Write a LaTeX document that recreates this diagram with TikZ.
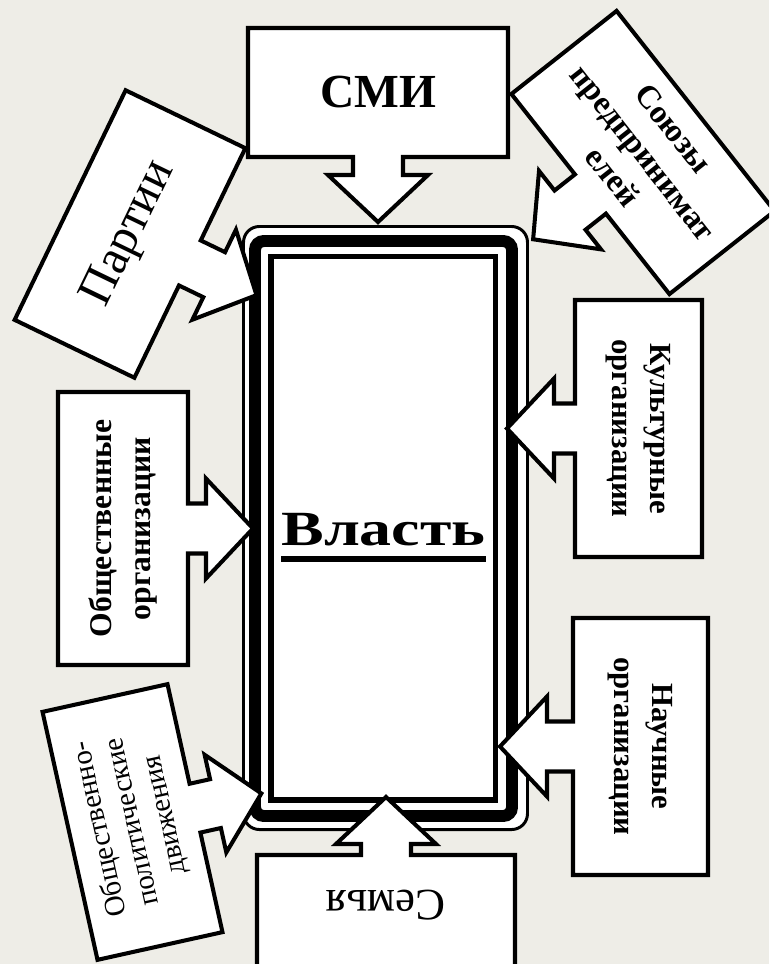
\documentclass[tikz,border=0pt]{standalone}
\usepackage{fontspec}
\setmainfont{Liberation Serif}
\usepackage{graphicx}
\usepackage{tikz}
\definecolor{fon}{RGB}{238,237,231}

% box with a block arrow under it, pointing down in its own frame
\newcommand{\callout}[5]{%
  \begin{scope}[shift={#1}, rotate=#2]
  \filldraw [callout] (-#3/2,#4/2) -- (#3/2,#4/2) -- (#3/2,-#4/2) -- (25,-#4/2) -- (25,-#4/2-#5+47) -- (50,-#4/2-#5+47) -- (0,-#4/2-#5) -- (-50,-#4/2-#5+47) -- (-25,-#4/2-#5+47) -- (-25,-#4/2) -- (-#3/2,-#4/2) -- cycle;
  \end{scope}}

\begin{document}
\begin{tikzpicture}[x=0.02cm, y=0.02cm,
  callout/.style={draw=black, fill=white, line width=2.3pt},
  lab/.style={align=center, inner sep=0pt},
  big/.style 2 args={font=\fontsize{#1}{#2}\selectfont},
  bigb/.style 2 args={font=\bfseries\fontsize{#1}{#2}\selectfont}]
\fill [fon] (0,0) rectangle (769,-964);
\clip (0,0) rectangle (769,-964);

% frame round the centre
\draw [line width=1.7pt, fill=white, rounded corners=9pt] (243.5,-226.5) rectangle (527.5,-829.5);
\draw [line width=6.8pt, rounded corners=5pt] (255,-241) rectangle (512,-816);
\draw [line width=3.4pt] (271,-256.5) rectangle (495.5,-800);
\node [lab, anchor=base, bigb={28}{32}] (vlast) at (383.5,-545) {\scalebox{1.3}[1]{Власть}};
\draw [line width=3.4pt] ([yshift=-0.28cm]vlast.base west) -- ([yshift=-0.28cm]vlast.base east);

\coordinate (c-smi) at (378,-92.5);
\coordinate (c-soyuzy) at (643,-152.5);
\coordinate (c-partii) at (130,-234);
\coordinate (c-kult) at (638.5,-428.5);
\coordinate (c-obsh) at (123,-528.5);
\coordinate (c-nauch) at (640.5,-746.5);
\coordinate (c-polit) at (132.5,-822);
\coordinate (c-semya) at (386,-911);

\callout{(c-smi)}{0}{260}{129}{65}
\callout{(c-soyuzy)}{-51.7}{255}{134}{73}
\callout{(c-partii)}{64.2}{255}{133}{74}
\callout{(c-kult)}{-90}{257}{127}{68}
\callout{(c-obsh)}{90}{273}{130}{65}
\callout{(c-nauch)}{-90}{257}{135}{73}
\callout{(c-polit)}{102.5}{254}{128}{68}
\callout{(c-semya)}{180}{258}{112}{58}

\node [lab, bigb={27}{32}] (smi) at (c-smi) {СМИ};
\node [lab, bigb={18.5}{22}, rotate=-51.7] (soyuzy) at (c-soyuzy) {Союзы\\предпринимат\\елей};
\node [lab, big={28}{32}, rotate=64.2] (partii) at (c-partii) {Партии};
\node [lab, bigb={17.5}{21.5}, rotate=-90] (kult) at (c-kult) {Культурные\\организации};
\node [lab, bigb={18}{22}, rotate=90] (obsh) at (c-obsh) {Общественные\\организации};
\node [lab, bigb={17.5}{21.5}, rotate=-90] (nauch) at (c-nauch) {Научные\\организации};
\node [lab, big={16.5}{19}, rotate=102.5] (polit) at (c-polit) {Общественно-\\политические\\движения};
\node [lab, big={25.5}{30}, rotate=180] (semya) at (386,-905) {Семья};
\end{tikzpicture}
\end{document}
